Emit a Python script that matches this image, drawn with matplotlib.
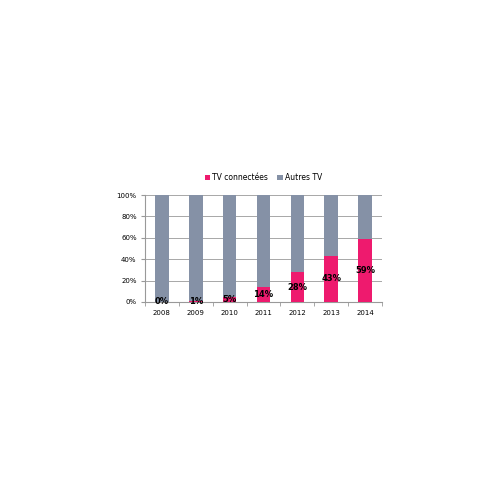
import matplotlib
matplotlib.use("Agg")
import matplotlib.pyplot as plt
import numpy as np

years = ["2008", "2009", "2010", "2011", "2012", "2013", "2014"]
connected = [0, 1, 5, 14, 28, 43, 59]
others = [100 - v for v in connected]
labels = ["0%", "1%", "5%", "14%", "28%", "43%", "59%"]

pink = "#EE1A6E"
gray = "#8591A6"

fig = plt.figure(figsize=(5, 5), dpi=100)
ax = fig.add_axes([145/500, 1 - 302/500, 237/500, 107/500])

x = np.arange(len(years))
ax.bar(x, connected, width=0.4, color=pink, label="TV connectées", zorder=3)
ax.bar(x, others, width=0.4, bottom=connected, color=gray, label="Autres TV", zorder=3)

for xi, v, lab in zip(x, connected, labels):
    ax.text(xi, v / 2, lab, ha="center", va="center", fontsize=6,
            fontweight="bold", color="black", zorder=4)

ax.set_xlim(-0.5, len(years) - 0.5)
ax.set_ylim(0, 100)
ax.set_yticks([0, 20, 40, 60, 80, 100])
ax.set_yticklabels(["0%", "20%", "40%", "60%", "80%", "100%"], fontsize=5)
ax.set_xticks(x)
ax.set_xticklabels(years, fontsize=5)
ax.tick_params(axis="x", length=0, pad=6)
ax.tick_params(axis="y", length=3, color="#999999", pad=3)
ax.set_xticks(np.arange(-0.5, len(years), 1), minor=True)
ax.tick_params(axis="x", which="minor", length=3, color="#999999")
ax.yaxis.grid(True, color="#999999", linewidth=0.6, zorder=0)
for s in ["top", "right"]:
    ax.spines[s].set_visible(False)
for s in ["left", "bottom"]:
    ax.spines[s].set_color("#999999")
    ax.spines[s].set_linewidth(0.8)

ax.legend(loc="center", bbox_to_anchor=(0.5, 1.16), ncol=2, frameon=False,
          fontsize=5.5, handlelength=0.7, handleheight=0.7, handletextpad=0.3,
          columnspacing=1.2, borderaxespad=0)

fig.savefig("out.png", dpi=100, facecolor="white")
